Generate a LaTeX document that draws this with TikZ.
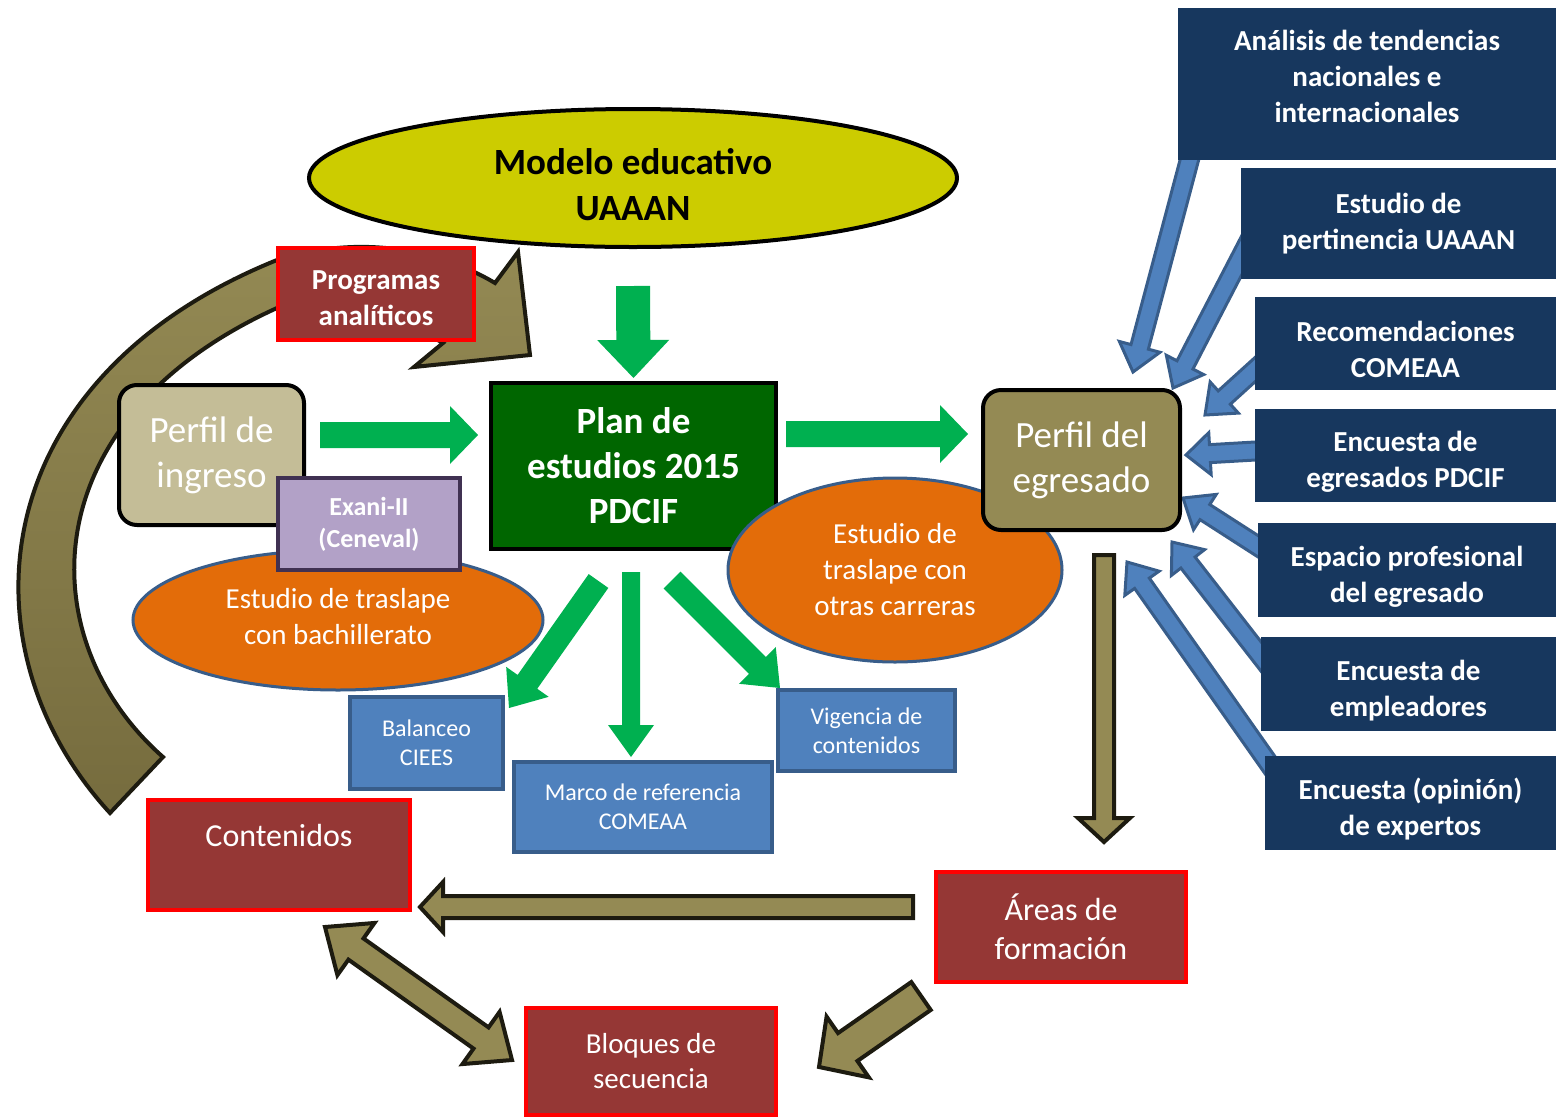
\documentclass[tikz,border=0pt]{standalone}
\usepackage{fontspec}
\setmainfont{Carlito}
\usetikzlibrary{calc, shapes.geometric, backgrounds}

\definecolor{amarillo}{HTML}{CCCC00}
\definecolor{verdeplan}{HTML}{006600}
\definecolor{verdeflecha}{HTML}{00B050}
\definecolor{arena}{HTML}{C4BD97}
\definecolor{olivo}{HTML}{948A54}
\definecolor{olivoosc}{HTML}{766C3E}
\definecolor{bordeosc}{HTML}{1D1B10}
\definecolor{lila}{HTML}{B2A1C7}
\definecolor{lilaosc}{HTML}{403152}
\definecolor{naranja}{HTML}{E36C09}
\definecolor{azul}{HTML}{4F81BD}
\definecolor{azulosc}{HTML}{385D8A}
\definecolor{marino}{HTML}{17375E}
\definecolor{vino}{HTML}{953735}

\newcommand{\bajar}{\rule{0pt}{33pt}}
\newcommand{\blockarrow}[6]{%
  \coordinate (ba0) at (#2); \coordinate (ba1) at (#3);
  \coordinate (bah) at ($(ba1)!#6pt!(ba0)$);
  \path[#1] ($(ba0)!#4pt!90:(ba1)$) -- ($(bah)!#4pt!90:(ba1)$) -- ($(bah)!#5pt!90:(ba1)$)
    -- (ba1) -- ($(bah)!#5pt!-90:(ba1)$) -- ($(bah)!#4pt!-90:(ba1)$) -- ($(ba0)!#4pt!-90:(ba1)$) -- cycle;}
\newcommand{\doublearrow}[6]{%
  \coordinate (ba0) at (#2); \coordinate (ba1) at (#3);
  \coordinate (bah) at ($(ba1)!#6pt!(ba0)$); \coordinate (bat) at ($(ba0)!#6pt!(ba1)$);
  \path[#1] (ba0) -- ($(bat)!#5pt!90:(ba1)$) -- ($(bat)!#4pt!90:(ba1)$) -- ($(bah)!#4pt!90:(ba1)$)
    -- ($(bah)!#5pt!90:(ba1)$) -- (ba1) -- ($(bah)!#5pt!-90:(ba1)$) -- ($(bah)!#4pt!-90:(ba1)$)
    -- ($(bat)!#4pt!-90:(ba1)$) -- ($(bat)!#5pt!-90:(ba1)$) -- cycle;}

\begin{document}
\begin{tikzpicture}[x=1pt, y=-1pt,
  box/.style={inner sep=0pt, outer sep=0pt, align=center, text=white},
  bigtext/.style={font=\fontsize{37}{45}\selectfont},
  redbox/.style={box, fill=vino, draw=red, line width=4pt},
  bluebox/.style={box, fill=azul, draw=azulosc, line width=3.5pt, font=\fontsize{24}{29}\selectfont},
  navybox/.style={box, fill=marino, font=\bfseries\fontsize{29}{36}\selectfont},
  orangeell/.style={box, ellipse, fill=naranja, draw=azulosc, line width=3pt, font=\fontsize{29}{36}\selectfont},
  greenarr/.style={fill=verdeflecha},
  bluearr/.style={fill=azul, draw=azulosc, line width=3pt},
  olivearr/.style={fill=olivo, draw=bordeosc, line width=4pt}]
\useasboundingbox (0,0) rectangle (1556,1117);

\draw[bordeosc, line width=4pt, top color=olivo, bottom color=olivoosc]
  (110,813) .. controls (-40,650) and (-20,380) .. (277,260) .. controls (380,228) and (460,262) .. (495,283)
  -- (518,252) -- (530,355) -- (414,367) -- (443,343)
  .. controls (400,318) and (340,300) .. (277,308) .. controls (30,420) and (30,640) .. (163,757) -- cycle;

\node[box, ellipse, fill=amarillo, draw=black, line width=4pt, minimum width=648, minimum height=138,
  text=black, font=\bfseries\fontsize{37}{46}\selectfont] (modelo) at (633,178) {\rule{0pt}{40pt}Modelo educativo\\UAAAN};
\node[redbox, minimum width=196, minimum height=92, font=\bfseries\fontsize{29}{36}\selectfont] (programas) at (376,294) {\rule{0pt}{27pt}Programas\\anal\'iticos};

\node[box, fill=verdeplan, draw=black, line width=4pt, minimum width=285, minimum height=166,
  font=\bfseries\fontsize{37}{45}\selectfont] (plan) at (633.5,466) {Plan de\\estudios 2015\\PDCIF};
\node[box, bigtext, fill=arena, draw=black, line width=4pt, rounded corners=18pt, minimum width=185, minimum height=140] (ingreso) at (211.5,455) {Perfil de\\ingreso};
\node[orangeell, minimum width=410, minimum height=140] (bach) at (338,620) {Estudio de traslape\\con bachillerato\rule[-7pt]{0pt}{0pt}};
\node[box, fill=lila, draw=lilaosc, line width=4pt, minimum width=182, minimum height=92, font=\bfseries\fontsize{26}{32}\selectfont] (exani) at (369,524) {Exani-II\\(Ceneval)};
\node[orangeell, minimum width=334, minimum height=184] (otras) at (895,570) {Estudio de\\traslape con\\otras carreras};
\node[box, bigtext, fill=olivo, draw=black, line width=4pt, rounded corners=18pt, minimum width=197, minimum height=140] (egr) at (1081.5,460) {Perfil del\\egresado};

\blockarrow{greenarr}{$(modelo.south)+(0,39)$}{$(plan.north)+(0,-5)$}{17}{36}{38}
\blockarrow{greenarr}{$(ingreso.east)+(16,-20)$}{$(plan.west)+(-13,-31)$}{13}{29}{28}
\blockarrow{greenarr}{$(plan.east)+(10,-32)$}{$(egr.west)+(-15,-26)$}{13}{29}{28}

\node[bluebox, minimum width=153, minimum height=92] (balanceo) at (426.5,743) {Balanceo\\CIEES};
\node[bluebox, minimum width=258, minimum height=90] (marco) at (643,807) {Marco de referencia\\COMEAA};
\node[bluebox, minimum width=177, minimum height=81] (vigencia) at (866.5,730.5) {Vigencia de\\contenidos};

\blockarrow{greenarr}{$(plan.south)+(-35,32)$}{$(balanceo.north east)+(6,11)$}{12}{26}{32}
\blockarrow{greenarr}{$(plan.south)+(-2.5,23)$}{$(marco.north)+(-12,-5)$}{9}{23}{32}
\blockarrow{greenarr}{$(plan.south)+(38.5,31)$}{$(vigencia.north west)+(2,-2)$}{12}{26}{32}

\node[redbox, minimum width=262, minimum height=110, font=\fontsize{32}{39}\selectfont] (contenidos) at (279,855) {Contenidos\\\mbox{}};
\node[redbox, minimum width=250, minimum height=110, font=\fontsize{32}{39}\selectfont] (areas) at (1061,927) {\'Areas de\\formaci\'on};
\node[redbox, minimum width=250, minimum height=107, font=\fontsize{29}{35}\selectfont] (bloques) at (651,1061.5) {Bloques de\\secuencia};

\blockarrow{olivearr}{$(egr.south)+(22.5,25)$}{$(areas.north)+(43,-30)$}{10}{26}{24}
\blockarrow{olivearr}{$(areas.west)+(-23,-20)$}{$(contenidos.east)+(10,52)$}{11}{25}{23}
\blockarrow{olivearr}{$(areas.south west)+(-15,14)$}{$(bloques.east)+(43,5.5)$}{17}{37}{35}
\doublearrow{olivearr}{$(contenidos.south east)+(-85,17)$}{$(bloques.west)+(-14,-1.5)$}{13}{32}{38}

\node[navybox, minimum width=378, minimum height=152] (tendencias) at (1367,84) {An\'alisis de tendencias\\nacionales e\\internacionales\rule[-16pt]{0pt}{0pt}};
\node[navybox, minimum width=315, minimum height=111] (pertinencia) at (1398.5,223.5) {Estudio de\\pertinencia UAAAN};
\node[navybox, minimum width=301, minimum height=93] (recomendaciones) at (1405.5,343.5) {\bajar Recomendaciones\\COMEAA};
\node[navybox, minimum width=301, minimum height=93] (encegresados) at (1405.5,455.5) {\bajar Encuesta de\\egresados PDCIF};
\node[navybox, minimum width=298, minimum height=94] (espacio) at (1407,570) {\bajar Espacio profesional\\del egresado};
\node[navybox, minimum width=295, minimum height=94] (empleadores) at (1408.5,684) {\bajar Encuesta de\\empleadores};
\node[navybox, minimum width=291, minimum height=94] (expertos) at (1410.5,803) {\bajar Encuesta (opini\'on)\\de expertos};

\begin{pgfonlayer}{background}
\blockarrow{bluearr}{$(tendencias.south west)+(14,-10)$}{$(egr.north east)+(-47,-18)$}{9}{21}{26}
\blockarrow{bluearr}{$(pertinencia.west)+(11,12)$}{$(egr.north east)+(-7,-2)$}{9}{21}{26}
\blockarrow{bluearr}{$(recomendaciones.west)+(9,18)$}{$(egr.east)+(25,-45)$}{9}{21}{26}
\blockarrow{bluearr}{$(encegresados.west)+(9,-5)$}{$(egr.east)+(6,-5)$}{9}{21}{24}
\blockarrow{bluearr}{$(espacio.west)+(9,-18)$}{$(egr.east)+(3,38)$}{9}{21}{26}
\blockarrow{bluearr}{$(empleadores.west)+(9,-16)$}{$(egr.south east)+(-8,12)$}{9}{21}{26}
\blockarrow{bluearr}{$(expertos.west)+(12,-28)$}{$(egr.south east)+(-53,32)$}{9}{21}{26}
\end{pgfonlayer}
\end{tikzpicture}
\end{document}
